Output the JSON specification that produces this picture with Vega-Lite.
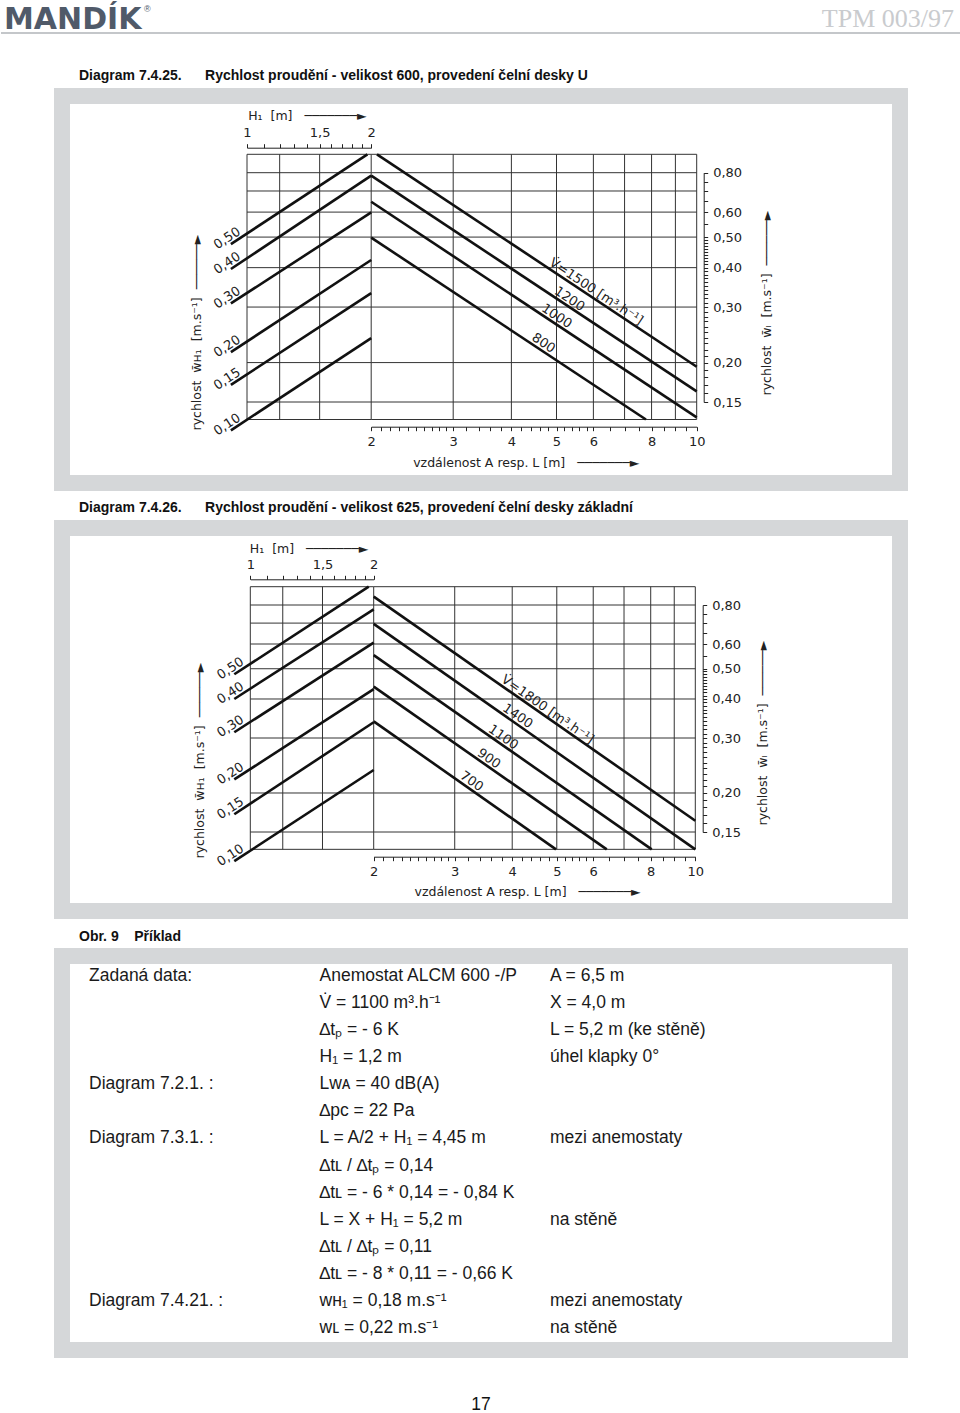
{
  "$schema": "https://vega.github.io/schema/vega-lite/v6.json",
  "padding": 0,
  "autosize": {"type": "pad"},
  "background": "white",
  "bounds": "flush",
  "center": true,
  "spacing": 45,
  "config": {
    "view": {"stroke": null},
    "axis": {"grid": false, "labelFont": "DejaVu Sans", "labelFontSize": 13, "labelColor": "#222", "titleFont": "DejaVu Sans", "titleFontSize": 12.5, "titleFontWeight": "normal", "titleColor": "#222", "domainColor": "#222", "tickColor": "#222", "labelOverlap": false, "labelFlush": false},
    "title": {"font": "Liberation Sans", "fontSize": 14, "fontWeight": "bold", "color": "#111", "anchor": "start", "frame": "group", "baseline": "alphabetic"}
  },
  "vconcat": [
    {
      "width": 960, "height": 51,
      "layer": [
        {"data": {"values": [{"t": "MANDÍK"}]}, "mark": {"type": "text", "align": "left", "baseline": "alphabetic", "font": "DejaVu Sans", "fontWeight": "bold", "fontSize": 30, "color": "#505a69"}, "encoding": {"text": {"field": "t"}, "x": {"value": 3}, "y": {"value": 29}}},
        {"data": {"values": [{"t": "®"}]}, "mark": {"type": "text", "align": "left", "baseline": "alphabetic", "font": "Liberation Sans", "fontSize": 9, "color": "#505a69"}, "encoding": {"text": {"field": "t"}, "x": {"value": 143}, "y": {"value": 12}}},
        {"data": {"values": [{"t": "TPM 003/97"}]}, "mark": {"type": "text", "align": "right", "baseline": "alphabetic", "font": "Liberation Serif", "fontSize": 26, "color": "#c9cbce"}, "encoding": {"text": {"field": "t"}, "x": {"value": 953}, "y": {"value": 27}}},
        {"data": {"values": [{"t": "line"}]}, "mark": {"type": "rule", "color": "#c4c7ca", "strokeWidth": 2}, "encoding": {"y": {"value": 33}}}
      ]
    },
    {
      "width": 838, "height": 387,
      "view": {"stroke": "#d5d7d9", "strokeWidth": 16, "fill": "white"},
      "title": {"text": "Diagram 7.4.25.\u00a0\u00a0\u00a0\u00a0\u00a0\u00a0Rychlost proudění - velikost 600, provedení čelní desky U", "dx": 17, "offset": 13},
      "layer": [
        {"layer": [
          {"data": {"values": [{"L": 2}, {"L": 3}, {"L": 4}, {"L": 5}, {"L": 6}, {"L": 7}, {"L": 8}, {"L": 9}, {"L": 10}]},
           "mark": {"type": "rule", "color": "#333", "strokeWidth": 1},
           "encoding": {
             "x": {"field": "L", "type": "quantitative", "scale": {"type": "log", "domain": [2, 10], "range": [309.2, 634.7], "nice": false},
                   "axis": {"orient": "bottom", "offset": -56.3, "values": [2, 2.1, 2.2, 2.3, 2.4, 2.5, 2.6, 2.7, 2.8, 2.9, 3, 3.2, 3.4, 3.6, 3.8, 4, 4.2, 4.4, 4.6, 4.8, 5, 5.2, 5.4, 5.6, 5.8, 6, 6.5, 7, 7.5, 8, 8.5, 9, 9.5, 10],
                            "labelExpr": "indexof([2,3,4,5,6,8,10], datum.value) >= 0 ? format(datum.value, 'd') : ''", "tickSize": 4, "labelPadding": 5,
                            "title": "vzdálenost A resp. L [m]\u00a0\u00a0\u00a0───────►", "titleX": 350.7, "titleY": 36, "titleAlign": "left", "titleBaseline": "middle", "titleAngle": 0}},
             "y": {"datum": 0.915, "type": "quantitative", "scale": {"type": "log", "domain": [0.15, 0.8], "range": [306, 76.7], "nice": false}},
             "y2": {"datum": 0.132}}},
          {"data": {"values": [{"w": 0.915}, {"w": 0.8}, {"w": 0.7}, {"w": 0.6}, {"w": 0.5}, {"w": 0.4}, {"w": 0.3}, {"w": 0.2}, {"w": 0.15}, {"w": 0.132}]},
           "mark": {"type": "rule", "color": "#333", "strokeWidth": 1},
           "encoding": {
             "x": {"datum": 2, "type": "quantitative", "scale": {"type": "log", "domain": [2, 10], "range": [309.2, 634.7], "nice": false}},
             "x2": {"datum": 10},
             "y": {"field": "w", "type": "quantitative", "scale": {"type": "log", "domain": [0.15, 0.8], "range": [306, 76.7], "nice": false},
                   "axis": {"orient": "right", "offset": -196.3, "values": [0.15, 0.16, 0.17, 0.18, 0.19, 0.2, 0.21, 0.22, 0.23, 0.24, 0.25, 0.26, 0.27, 0.28, 0.29, 0.3, 0.31, 0.32, 0.33, 0.34, 0.35, 0.36, 0.37, 0.38, 0.39, 0.4, 0.41, 0.42, 0.43, 0.44, 0.45, 0.46, 0.47, 0.48, 0.49, 0.5, 0.55, 0.6, 0.65, 0.7, 0.75, 0.8],
                            "labelExpr": "indexof([0.15,0.2,0.3,0.4,0.5,0.6,0.8], datum.value) >= 0 ? replace(format(datum.value, '.2f'), '.', ',') : ''", "tickSize": 4, "labelPadding": 5,
                            "title": "rychlost\u00a0\u00a0w\u0304ₗ\u00a0\u00a0[m.s⁻¹]\u00a0\u00a0──────►", "titleAngle": 270, "titleX": 62.3, "titleY": 299, "titleAlign": "left", "titleBaseline": "middle"}}}},
          {"data": {"values": [
             {"V": "1500", "L1": 2.058, "w1": 0.915, "L2": 10, "w2": 0.194},
             {"V": "1200", "L1": 2, "w1": 0.783, "L2": 10, "w2": 0.162},
             {"V": "1000", "L1": 2, "w1": 0.647, "L2": 10, "w2": 0.134},
             {"V": "800", "L1": 2, "w1": 0.498, "L2": 7.78, "w2": 0.132}]},
           "mark": {"type": "rule", "color": "#111", "strokeWidth": 2.6},
           "encoding": {
             "x": {"field": "L1", "type": "quantitative", "scale": {"type": "log", "domain": [2, 10], "range": [309.2, 634.7], "nice": false}},
             "x2": {"field": "L2"},
             "y": {"field": "w1", "type": "quantitative", "scale": {"type": "log", "domain": [0.15, 0.8], "range": [306, 76.7], "nice": false}},
             "y2": {"field": "w2"}}},
          {"data": {"values": [
             {"t": "V\u0307=1500 [m³.h⁻¹]", "L": 5.97, "w": 0.322},
             {"t": "1200", "L": 5.23, "w": 0.305},
             {"t": "1000", "L": 4.91, "w": 0.269},
             {"t": "800", "L": 4.6, "w": 0.221}]},
           "mark": {"type": "text", "angle": 33.7, "align": "center", "baseline": "bottom", "font": "DejaVu Sans", "fontSize": 13, "color": "#222"},
           "encoding": {
             "x": {"field": "L", "type": "quantitative", "scale": {"type": "log", "domain": [2, 10], "range": [309.2, 634.7], "nice": false}},
             "y": {"field": "w", "type": "quantitative", "scale": {"type": "log", "domain": [0.15, 0.8], "range": [306, 76.7], "nice": false}},
             "text": {"field": "t"}}}
        ]},
        {"layer": [
          {"data": {"values": [{"H": 1}, {"H": 1.2}, {"H": 1.5}]},
           "mark": {"type": "rule", "color": "#333", "strokeWidth": 1},
           "encoding": {
             "x": {"field": "H", "type": "quantitative", "scale": {"type": "log", "domain": [1, 2], "range": [185, 309.2], "nice": false},
                   "axis": {"orient": "top", "offset": -51.7, "values": [1, 1.1, 1.2, 1.3, 1.4, 1.5, 1.6, 1.7, 1.8, 1.9, 2],
                            "labelExpr": "datum.value == 1 ? '1' : datum.value == 1.5 ? '1,5' : datum.value == 2 ? '2' : ''", "tickSize": 4, "labelPadding": 4,
                            "title": "H₁\u00a0\u00a0[m]\u00a0\u00a0\u00a0───────►", "titleX": 185.7, "titleY": -32.7, "titleAlign": "left", "titleBaseline": "middle", "titleAngle": 0}},
             "y": {"datum": 0.915, "type": "quantitative", "scale": {"type": "log", "domain": [0.15, 0.8], "range": [306, 76.7], "nice": false}},
             "y2": {"datum": 0.132}}},
          {"data": {"values": [{"w": 0.915}, {"w": 0.8}, {"w": 0.7}, {"w": 0.6}, {"w": 0.5}, {"w": 0.4}, {"w": 0.3}, {"w": 0.2}, {"w": 0.15}, {"w": 0.132}]},
           "mark": {"type": "rule", "color": "#333", "strokeWidth": 1},
           "encoding": {
             "x": {"datum": 1, "type": "quantitative", "scale": {"type": "log", "domain": [1, 2], "range": [185, 309.2], "nice": false}},
             "x2": {"datum": 2},
             "y": {"field": "w", "type": "quantitative", "scale": {"type": "log", "domain": [0.15, 0.8], "range": [306, 76.7], "nice": false},
                   "axis": {"orient": "left", "labels": false, "ticks": false, "domain": false,
                            "title": "rychlost\u00a0\u00a0w\u0304ʜ₁\u00a0\u00a0[m.s⁻¹]\u00a0\u00a0──────►", "titleAngle": 270, "titleX": 134, "titleY": 334, "titleAlign": "left", "titleBaseline": "middle"}}}},
          {"data": {"values": [
             {"lab": "0,50", "H1": 0.914, "w1": 0.475, "H2": 1.958, "w2": 0.915},
             {"lab": "0,40", "H1": 0.914, "w1": 0.396, "H2": 2, "w2": 0.783},
             {"lab": "0,30", "H1": 0.914, "w1": 0.308, "H2": 2, "w2": 0.599},
             {"lab": "0,20", "H1": 0.914, "w1": 0.216, "H2": 2, "w2": 0.423},
             {"lab": "0,15", "H1": 0.914, "w1": 0.17, "H2": 2, "w2": 0.332},
             {"lab": "0,10", "H1": 0.914, "w1": 0.122, "H2": 2, "w2": 0.239}]},
           "layer": [
             {"mark": {"type": "rule", "color": "#111", "strokeWidth": 2.6},
              "encoding": {
                "x": {"field": "H1", "type": "quantitative", "scale": {"type": "log", "domain": [1, 2], "range": [185, 309.2], "nice": false}},
                "x2": {"field": "H2"},
                "y": {"field": "w1", "type": "quantitative", "scale": {"type": "log", "domain": [0.15, 0.8], "range": [306, 76.7], "nice": false}},
                "y2": {"field": "w2"}}},
             {"mark": {"type": "text", "angle": 326.7, "align": "center", "baseline": "bottom", "font": "DejaVu Sans", "fontSize": 13, "color": "#222"},
              "encoding": {
                "x": {"field": "H1", "type": "quantitative", "scale": {"type": "log", "domain": [1, 2], "range": [185, 309.2], "nice": false}},
                "y": {"field": "w1", "type": "quantitative", "scale": {"type": "log", "domain": [0.15, 0.8], "range": [306, 76.7], "nice": false}},
                "text": {"field": "lab"}}}
           ]}
        ]}
      ],
      "resolve": {"scale": {"x": "independent"}, "axis": {"x": "independent", "y": "independent"}}
    },
    {
      "width": 838, "height": 383,
      "view": {"stroke": "#d5d7d9", "strokeWidth": 16, "fill": "white"},
      "title": {"text": "Diagram 7.4.26.\u00a0\u00a0\u00a0\u00a0\u00a0\u00a0Rychlost proudění - velikost 625, provedení čelní desky základní", "dx": 17, "offset": 13},
      "layer": [
        {"layer": [
          {"data": {"values": [{"L": 2}, {"L": 3}, {"L": 4}, {"L": 5}, {"L": 6}, {"L": 7}, {"L": 8}, {"L": 9}, {"L": 10}]},
           "mark": {"type": "rule", "color": "#333", "strokeWidth": 1},
           "encoding": {
             "x": {"field": "L", "type": "quantitative", "scale": {"type": "log", "domain": [2, 10], "range": [311.7, 633.3], "nice": false},
                   "axis": {"orient": "bottom", "offset": -54.3, "values": [2, 2.1, 2.2, 2.3, 2.4, 2.5, 2.6, 2.7, 2.8, 2.9, 3, 3.2, 3.4, 3.6, 3.8, 4, 4.2, 4.4, 4.6, 4.8, 5, 5.2, 5.4, 5.6, 5.8, 6, 6.5, 7, 7.5, 8, 8.5, 9, 9.5, 10],
                            "labelExpr": "indexof([2,3,4,5,6,8,10], datum.value) >= 0 ? format(datum.value, 'd') : ''", "tickSize": 4, "labelPadding": 5,
                            "title": "vzdálenost A resp. L [m]\u00a0\u00a0\u00a0───────►", "titleX": 352, "titleY": 34.3, "titleAlign": "left", "titleBaseline": "middle", "titleAngle": 0}},
             "y": {"datum": 0.9156, "type": "quantitative", "scale": {"type": "log", "domain": [0.15, 0.8], "range": [304, 77], "nice": false}},
             "y2": {"datum": 0.132}}},
          {"data": {"values": [{"w": 0.9156}, {"w": 0.8}, {"w": 0.7}, {"w": 0.6}, {"w": 0.5}, {"w": 0.4}, {"w": 0.3}, {"w": 0.2}, {"w": 0.15}, {"w": 0.132}]},
           "mark": {"type": "rule", "color": "#333", "strokeWidth": 1},
           "encoding": {
             "x": {"datum": 2, "type": "quantitative", "scale": {"type": "log", "domain": [2, 10], "range": [311.7, 633.3], "nice": false}},
             "x2": {"datum": 10},
             "y": {"field": "w", "type": "quantitative", "scale": {"type": "log", "domain": [0.15, 0.8], "range": [304, 77], "nice": false},
                   "axis": {"orient": "right", "offset": -197.3, "values": [0.15, 0.16, 0.17, 0.18, 0.19, 0.2, 0.21, 0.22, 0.23, 0.24, 0.25, 0.26, 0.27, 0.28, 0.29, 0.3, 0.31, 0.32, 0.33, 0.34, 0.35, 0.36, 0.37, 0.38, 0.39, 0.4, 0.41, 0.42, 0.43, 0.44, 0.45, 0.46, 0.47, 0.48, 0.49, 0.5, 0.55, 0.6, 0.65, 0.7, 0.75, 0.8],
                            "labelExpr": "indexof([0.15,0.2,0.3,0.4,0.5,0.6,0.8], datum.value) >= 0 ? replace(format(datum.value, '.2f'), '.', ',') : ''", "tickSize": 4, "labelPadding": 5,
                            "title": "rychlost\u00a0\u00a0w\u0304ₗ\u00a0\u00a0[m.s⁻¹]\u00a0\u00a0──────►", "titleAngle": 270, "titleX": 60, "titleY": 297, "titleAlign": "left", "titleBaseline": "middle"}}}},
          {"data": {"values": [
             {"V": "1800", "L1": 2, "w1": 0.851, "L2": 10, "w2": 0.163},
             {"V": "1400", "L1": 2, "w1": 0.696, "L2": 10, "w2": 0.132},
             {"V": "1100", "L1": 2, "w1": 0.553, "L2": 8.04, "w2": 0.132},
             {"V": "900", "L1": 2, "w1": 0.438, "L2": 6.42, "w2": 0.132},
             {"V": "700", "L1": 2, "w1": 0.339, "L2": 4.98, "w2": 0.132}]},
           "mark": {"type": "rule", "color": "#111", "strokeWidth": 2.6},
           "encoding": {
             "x": {"field": "L1", "type": "quantitative", "scale": {"type": "log", "domain": [2, 10], "range": [311.7, 633.3], "nice": false}},
             "x2": {"field": "L2"},
             "y": {"field": "w1", "type": "quantitative", "scale": {"type": "log", "domain": [0.15, 0.8], "range": [304, 77], "nice": false}},
             "y2": {"field": "w2"}}},
          {"data": {"values": [
             {"t": "V\u0307=1800 [m³.h⁻¹]", "L": 4.68, "w": 0.355},
             {"t": "1400", "L": 4.03, "w": 0.338},
             {"t": "1100", "L": 3.75, "w": 0.289},
             {"t": "900", "L": 3.49, "w": 0.247},
             {"t": "700", "L": 3.2, "w": 0.209}]},
           "mark": {"type": "text", "angle": 35, "align": "center", "baseline": "bottom", "font": "DejaVu Sans", "fontSize": 13, "color": "#222"},
           "encoding": {
             "x": {"field": "L", "type": "quantitative", "scale": {"type": "log", "domain": [2, 10], "range": [311.7, 633.3], "nice": false}},
             "y": {"field": "w", "type": "quantitative", "scale": {"type": "log", "domain": [0.15, 0.8], "range": [304, 77], "nice": false}},
             "text": {"field": "t"}}}
        ]},
        {"layer": [
          {"data": {"values": [{"H": 1}, {"H": 1.2}, {"H": 1.5}]},
           "mark": {"type": "rule", "color": "#333", "strokeWidth": 1},
           "encoding": {
             "x": {"field": "H", "type": "quantitative", "scale": {"type": "log", "domain": [1, 2], "range": [188.3, 311.7], "nice": false},
                   "axis": {"orient": "top", "offset": -51.3, "values": [1, 1.1, 1.2, 1.3, 1.4, 1.5, 1.6, 1.7, 1.8, 1.9, 2],
                            "labelExpr": "datum.value == 1 ? '1' : datum.value == 1.5 ? '1,5' : datum.value == 2 ? '2' : ''", "tickSize": 4, "labelPadding": 4,
                            "title": "H₁\u00a0\u00a0[m]\u00a0\u00a0\u00a0───────►", "titleX": 187.3, "titleY": -31, "titleAlign": "left", "titleBaseline": "middle", "titleAngle": 0}},
             "y": {"datum": 0.9156, "type": "quantitative", "scale": {"type": "log", "domain": [0.15, 0.8], "range": [304, 77], "nice": false}},
             "y2": {"datum": 0.132}}},
          {"data": {"values": [{"w": 0.9156}, {"w": 0.8}, {"w": 0.7}, {"w": 0.6}, {"w": 0.5}, {"w": 0.4}, {"w": 0.3}, {"w": 0.2}, {"w": 0.15}, {"w": 0.132}]},
           "mark": {"type": "rule", "color": "#333", "strokeWidth": 1},
           "encoding": {
             "x": {"datum": 1, "type": "quantitative", "scale": {"type": "log", "domain": [1, 2], "range": [188.3, 311.7], "nice": false}},
             "x2": {"datum": 2},
             "y": {"field": "w", "type": "quantitative", "scale": {"type": "log", "domain": [0.15, 0.8], "range": [304, 77], "nice": false},
                   "axis": {"orient": "left", "labels": false, "ticks": false, "domain": false,
                            "title": "rychlost\u00a0\u00a0w\u0304ʜ₁\u00a0\u00a0[m.s⁻¹]\u00a0\u00a0──────►", "titleAngle": 270, "titleX": 137.3, "titleY": 330, "titleAlign": "left", "titleBaseline": "middle"}}}},
          {"data": {"values": [
             {"lab": "0,50", "H1": 0.914, "w1": 0.48, "H2": 1.945, "w2": 0.9156},
             {"lab": "0,40", "H1": 0.914, "w1": 0.4, "H2": 2, "w2": 0.775},
             {"lab": "0,30", "H1": 0.914, "w1": 0.313, "H2": 2, "w2": 0.606},
             {"lab": "0,20", "H1": 0.914, "w1": 0.221, "H2": 2, "w2": 0.43},
             {"lab": "0,15", "H1": 0.914, "w1": 0.171, "H2": 2, "w2": 0.337},
             {"lab": "0,10", "H1": 0.914, "w1": 0.121, "H2": 2, "w2": 0.237}]},
           "layer": [
             {"mark": {"type": "rule", "color": "#111", "strokeWidth": 2.6},
              "encoding": {
                "x": {"field": "H1", "type": "quantitative", "scale": {"type": "log", "domain": [1, 2], "range": [188.3, 311.7], "nice": false}},
                "x2": {"field": "H2"},
                "y": {"field": "w1", "type": "quantitative", "scale": {"type": "log", "domain": [0.15, 0.8], "range": [304, 77], "nice": false}},
                "y2": {"field": "w2"}}},
             {"mark": {"type": "text", "angle": 327, "align": "center", "baseline": "bottom", "font": "DejaVu Sans", "fontSize": 13, "color": "#222"},
              "encoding": {
                "x": {"field": "H1", "type": "quantitative", "scale": {"type": "log", "domain": [1, 2], "range": [188.3, 311.7], "nice": false}},
                "y": {"field": "w1", "type": "quantitative", "scale": {"type": "log", "domain": [0.15, 0.8], "range": [304, 77], "nice": false}},
                "text": {"field": "lab"}}}
           ]}
        ]}
      ],
      "resolve": {"scale": {"x": "independent"}, "axis": {"x": "independent", "y": "independent"}}
    },
    {
      "width": 838, "height": 394,
      "view": {"stroke": "#d5d7d9", "strokeWidth": 16, "fill": "white"},
      "title": {"text": "Obr. 9\u00a0\u00a0\u00a0\u00a0Příklad", "dx": 17, "offset": 12},
      "data": {"values": [
        {"r": 0, "c": 0, "t": "Zadaná data:"}, {"r": 0, "c": 1, "t": "Anemostat ALCM 600 -/P"}, {"r": 0, "c": 2, "t": "A = 6,5 m"},
        {"r": 1, "c": 1, "t": "V\u0307 = 1100 m³.h⁻¹"}, {"r": 1, "c": 2, "t": "X = 4,0 m"},
        {"r": 2, "c": 1, "t": "∆tₚ = - 6 K"}, {"r": 2, "c": 2, "t": "L = 5,2 m (ke stěně)"},
        {"r": 3, "c": 1, "t": "H₁ = 1,2 m"}, {"r": 3, "c": 2, "t": "úhel klapky 0°"},
        {"r": 4, "c": 0, "t": "Diagram 7.2.1. :"}, {"r": 4, "c": 1, "t": "Lᴡᴀ = 40 dB(A)"},
        {"r": 5, "c": 1, "t": "∆pᴄ = 22 Pa"},
        {"r": 6, "c": 0, "t": "Diagram 7.3.1. :"}, {"r": 6, "c": 1, "t": "L = A/2 + H₁ = 4,45 m"}, {"r": 6, "c": 2, "t": "mezi anemostaty"},
        {"r": 7, "c": 1, "t": "∆tʟ / ∆tₚ = 0,14"},
        {"r": 8, "c": 1, "t": "∆tʟ = - 6 * 0,14 = - 0,84 K"},
        {"r": 9, "c": 1, "t": "L = X + H₁ = 5,2 m"}, {"r": 9, "c": 2, "t": "na stěně"},
        {"r": 10, "c": 1, "t": "∆tʟ / ∆tₚ = 0,11"},
        {"r": 11, "c": 1, "t": "∆tʟ = - 8 * 0,11 = - 0,66 K"},
        {"r": 12, "c": 0, "t": "Diagram 7.4.21. :"}, {"r": 12, "c": 1, "t": "wʜ₁ = 0,18 m.s⁻¹"}, {"r": 12, "c": 2, "t": "mezi anemostaty"},
        {"r": 13, "c": 1, "t": "wʟ = 0,22 m.s⁻¹"}, {"r": 13, "c": 2, "t": "na stěně"}
      ]},
      "mark": {"type": "text", "align": "left", "baseline": "middle", "font": "Liberation Sans", "fontSize": 17.5, "color": "#1a1a1a"},
      "encoding": {
        "x": {"field": "c", "type": "quantitative", "scale": {"domain": [0, 2], "range": [27, 488]}, "axis": null},
        "y": {"field": "r", "type": "quantitative", "scale": {"domain": [0, 13], "range": [20, 372]}, "axis": null},
        "text": {"field": "t"}
      }
    },
    {
      "width": 960, "height": 18,
      "data": {"values": [{"t": "17"}]},
      "mark": {"type": "text", "align": "center", "baseline": "middle", "font": "Liberation Sans", "fontSize": 17.5, "color": "#111"},
      "encoding": {"text": {"field": "t"}, "x": {"value": 480}, "y": {"value": 10}}
    }
  ]
}
